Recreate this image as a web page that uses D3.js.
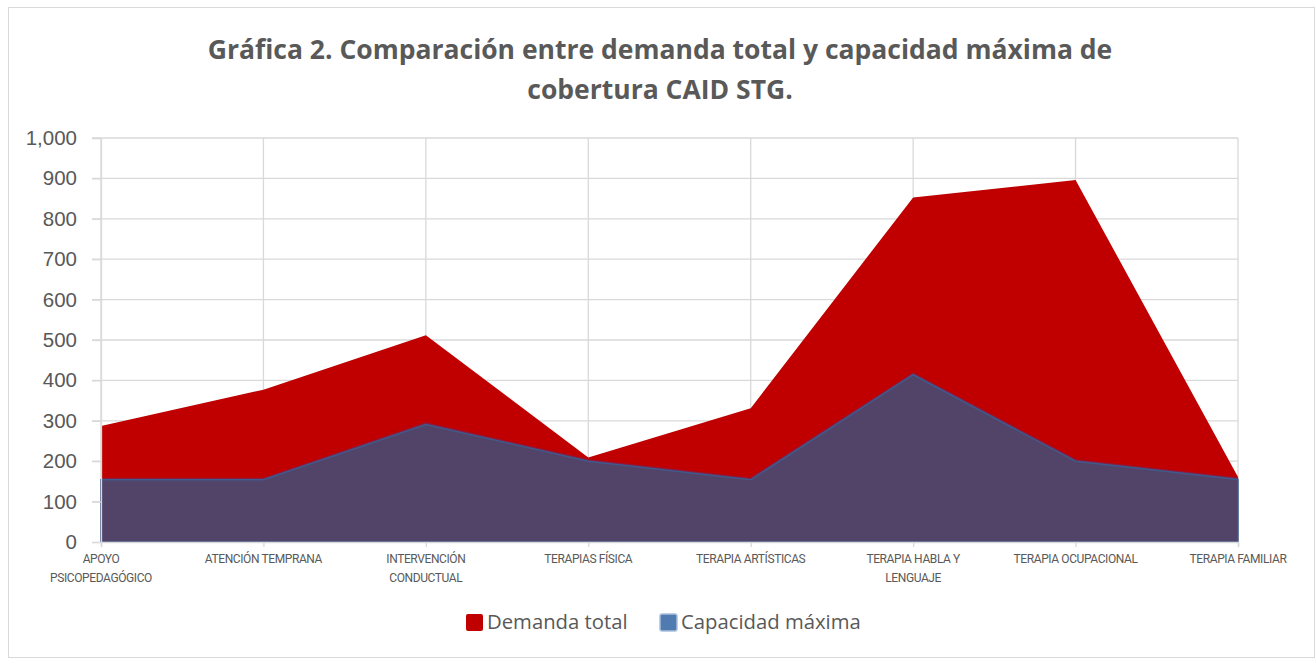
<!DOCTYPE html>
<html>
<head>
<meta charset="utf-8">
<script src="https://cdn.jsdelivr.net/npm/d3@7"></script>
<style>
  body { margin: 0; background: #fff; }
</style>
</head>
<body>
<svg id="chart"></svg>
<script>
// SVG dims
var width = 1315;
var height = 658;

// Data values
var categories = ["APOYO PSICOPEDAGÓGICO", "ATENCIÓN TEMPRANA", "INTERVENCIÓN CONDUCTUAL",
  "TERAPIAS FÍSICA", "TERAPIA ARTÍSTICAS", "TERAPIA HABLA Y LENGUAJE",
  "TERAPIA OCUPACIONAL", "TERAPIA FAMILIAR"];
// label lines as wrapped in the picture
var labelLines = [["APOYO", "PSICOPEDAGÓGICO"], ["ATENCIÓN TEMPRANA"], ["INTERVENCIÓN", "CONDUCTUAL"],
  ["TERAPIAS FÍSICA"], ["TERAPIA ARTÍSTICAS"], ["TERAPIA HABLA Y", "LENGUAJE"],
  ["TERAPIA OCUPACIONAL"], ["TERAPIA FAMILIAR"]];
var demanda = [287, 377, 512, 209, 331, 853, 896, 161];
var capacidad = [154, 154, 291, 200, 154, 414, 200, 155];
var yTicks = [0, 100, 200, 300, 400, 500, 600, 700, 800, 900, 1000];
var seriesNames = ["Demanda total", "Capacidad máxima"];

var svg = d3.select("#chart").attr("width", width).attr("height", height);

// chart border
svg.append("rect")
  .attr("x", 8.5).attr("y", 7.5)
  .attr("width", width - 9).attr("height", height - 8)
  .attr("fill", "white").attr("stroke", "#d9d9d9");

// Title
var title = svg.append("text")
  .attr("text-anchor", "middle")
  .attr("fill", "#595959")
  .style("font-family", "'Open Sans', sans-serif")
  .style("font-size", "26.5px")
  .style("font-weight", "bold");
title.append("tspan").attr("x", 660).attr("y", 59)
  .text("Gráfica 2. Comparación entre demanda total y capacidad máxima de");
title.append("tspan").attr("x", 660).attr("y", 99)
  .text("cobertura CAID STG.");

// scales
var x = d3.scalePoint()
  .domain(categories)
  .range([101, 1238]);

var y = d3.scaleLinear()
  .domain([0, 1000])
  .range([542, 138]);

// gridlines
svg.append("g").selectAll("line")
  .data(yTicks.slice(1)).enter()
  .append("line")
  .attr("x1", 92).attr("x2", 1238)
  .attr("y1", function(d) { return y(d); })
  .attr("y2", function(d) { return y(d); })
  .attr("stroke", "#d9d9d9").attr("stroke-width", 1.3);

svg.append("g").selectAll("line")
  .data(categories).enter()
  .append("line")
  .attr("x1", function(d) { return x(d); })
  .attr("x2", function(d) { return x(d); })
  .attr("y1", 138).attr("y2", 542)
  .attr("stroke", "#d9d9d9").attr("stroke-width", 1.3);

// areas
var area = function(vals) {
  return d3.area()
    .x(function(d, i) { return x(categories[i]); })
    .y0(y(0))
    .y1(function(d) { return y(d); })(vals);
};
var line = function(vals) {
  return d3.line()
    .x(function(d, i) { return x(categories[i]); })
    .y(function(d) { return y(d); })(vals);
};

svg.append("path")
  .attr("d", area(demanda))
  .attr("fill", "#c00000");

svg.append("path")
  .attr("d", line(capacidad))
  .attr("fill", "none")
  .attr("stroke", "#8e1a3c")
  .attr("stroke-width", 4);

svg.append("path")
  .attr("d", area(capacidad))
  .attr("fill", "#524369")
  .attr("stroke", "#3f5a8c")
  .attr("stroke-width", 1.5);

// x axis
var xAxis = d3.axisBottom(x).tickSize(5).tickFormat("");
var gx = svg.append("g")
  .attr("transform", "translate(0," + y(0) + ")")
  .call(xAxis);
gx.select(".domain").attr("stroke", "#d9d9d9").attr("stroke-width", 1.5);
gx.selectAll(".tick line").attr("stroke", "#d9d9d9").attr("stroke-width", 1.3);

var xl = svg.append("g").selectAll("text")
  .data(categories).enter()
  .append("text")
  .attr("text-anchor", "middle")
  .attr("fill", "#595959")
  .style("font-size", "12px")
  .style("font-family", "Roboto, sans-serif")
  .style("letter-spacing", "-0.4px");
xl.each(function(d, i) {
  var t = d3.select(this);
  labelLines[i].forEach(function(s, j) {
    t.append("tspan")
      .attr("x", x(d))
      .attr("y", 563 + j * 19)
      .text(s);
  });
});

// y axis
var yAxis = d3.axisLeft(y)
  .tickValues(yTicks)
  .tickSize(9)
  .tickPadding(15)
  .tickFormat(d3.format(","));
var gy = svg.append("g")
  .attr("transform", "translate(101,0)")
  .call(yAxis);
gy.select(".domain").attr("stroke", "#d9d9d9").attr("stroke-width", 1.3);
gy.selectAll(".tick line").attr("stroke", "#d9d9d9").attr("stroke-width", 1.3);
gy.selectAll(".tick text")
  .attr("fill", "#595959")
  .style("font-size", "20.5px")
  .style("font-family", "'Liberation Sans', Arial, sans-serif");

// legend
var legend = svg.append("g");
var legX = [465, 659];
var legColors = ["#c00000", "#4f7bb0"];
seriesNames.forEach(function(name, i) {
  legend.append("rect")
    .attr("x", legX[i] + 1).attr("y", 614)
    .attr("width", 17).attr("height", 17)
    .attr("rx", 2)
    .attr("fill", legColors[i])
    .attr("stroke", i == 1 ? "#a9bfdc" : "none")
    .attr("stroke-width", 1.5);
  legend.append("text")
    .attr("x", legX[i] + 22).attr("y", 629)
    .attr("fill", "#595959")
    .style("font-size", "20.3px")
    .style("font-family", "'Open Sans', sans-serif")
    .text(name);
});
</script>
</body>
</html>
